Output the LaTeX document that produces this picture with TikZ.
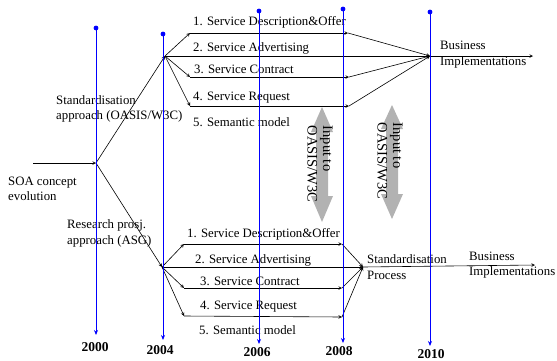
\documentclass[tikz,border=0pt]{standalone}
\usepackage{fontspec}
\setmainfont{Liberation Serif}
\usetikzlibrary{arrows.meta}

\begin{document}
\begin{tikzpicture}[x=1pt,y=-1pt]
	\tikzstyle{txt} = [anchor=west, align=left, inner sep=0pt, font=\fontsize{12.8}{15.5}\selectfont]
	\tikzstyle{year} = [inner sep=0pt, font=\fontsize{13.5}{16}\selectfont\bfseries]
	\tikzstyle{arrow} = [line width=0.6pt, ->, >=stealth]
	\tikzstyle{timeline} = [blue, line width=0.9pt, -{Stealth[length=5pt,width=4pt]}]
	\tikzstyle{inputarrow} = [fill=gray!60]
	\tikzstyle{inputtxt} = [align=left, inner sep=0pt, rotate=-90, font=\fontsize{14.5}{15.5}\selectfont]
	
	\useasboundingbox (0,0) rectangle (557,360);
	
	% branch points
	\coordinate (soa) at (33,163);
	\coordinate (p2000) at (96,163);
	\coordinate (up) at (165,56);
	\coordinate (lo) at (162,267);
	
	% standardisation branch
	\coordinate (a1) at (190,33);
	\coordinate (a3) at (190,77);
	\coordinate (a4) at (190,106);
	\coordinate (e1) at (348,33);
	\coordinate (e3) at (349,77);
	\coordinate (e4) at (349,106);
	\coordinate (merge) at (430,56);
	\coordinate (bizup) at (533,56);
	
	% research branch
	\coordinate (b1) at (184,244);
	\coordinate (b3) at (184,288);
	\coordinate (b4) at (184,316);
	\coordinate (f1) at (342,244);
	\coordinate (f3) at (342,288);
	\coordinate (f4) at (342,317);
	\coordinate (smerge) at (363,267);
	\coordinate (bizlo) at (535,265);
	
	% grey double arrows
	\fill[inputarrow] (322,107) -- (333,132) -- (328,132) -- (328,196) -- (333,196) -- (322,222)
		-- (311,196) -- (316,196) -- (316,132) -- (311,132) -- cycle;
	\fill[inputarrow] (392,105) -- (403,129) -- (398,129) -- (398,194) -- (403,194) -- (392,219)
		-- (381,194) -- (386,194) -- (386,129) -- (381,129) -- cycle;
	\node (in1) [inputtxt] at (320,164) {Input to\\OASIS/W3C};
	\node (in2) [inputtxt] at (390,161) {Input to\\OASIS/W3C};
	
	% texts
	\node (soatxt) [txt] at (8,189) {SOA concept\\evolution};
	\node (stdtxt) [txt] at (56,109) {Standardisation\\approach (OASIS/W3C)};
	\node (restxt) [txt] at (67,233.5) {Research prosj.\\approach (ASG)};
	
	\node (u1) [txt] at (193,22) {1. Service Description\&Offer};
	\node (u2) [txt] at (193,48) {2. Service Advertising};
	\node (u3) [txt] at (194,69) {3. Service Contract};
	\node (u4) [txt] at (193,98) {4. Service Request};
	\node (u5) [txt] at (193,122) {5. Semantic model};
	\node (bizu) [txt] at (440,54.5) {Business\\Implementations};
	
	\node (l1) [txt] at (187,234) {1. Service Description\&Offer};
	\node (l2) [txt] at (195,260) {2. Service Advertising};
	\node (l3) [txt] at (200,281) {3. Service Contract};
	\node (l4) [txt] at (200,307) {4. Service Request};
	\node (l5) [txt] at (199,330) {5. Semantic model};
	\node (stdproc) [txt] at (367,267) {Standardisation\\Process};
	\node (bizl) [txt] at (469,265) {Business\\Implementations};
	
	% evolution
	\draw [arrow] (soa) -- (p2000);
	\draw [arrow] (p2000) -- (up);
	\draw [arrow] (p2000) -- (lo);
	
	\draw [arrow] (up) -- (a1);
	\draw [arrow] (up) -- (a3);
	\draw [arrow] (up) -- (a4);
	\draw [arrow] (a1) -- (e1);
	\draw [arrow] (up) -- (merge);
	\draw [arrow] (a3) -- (e3);
	\draw [arrow] (a4) -- (e4);
	\draw [arrow] (e1) -- (merge);
	\draw [arrow] (e3) -- (merge);
	\draw [arrow] (e4) -- (merge);
	\draw [arrow] (merge) -- (bizup);
	
	\draw [arrow] (lo) -- (b1);
	\draw [arrow] (lo) -- (b3);
	\draw [arrow] (lo) -- (b4);
	\draw [arrow] (b1) -- (f1);
	\draw [arrow] (lo) -- (smerge);
	\draw [arrow] (b3) -- (f3);
	\draw [arrow] (b4) -- (f4);
	\draw [arrow] (f1) -- (smerge);
	\draw [arrow] (f3) -- (smerge);
	\draw [arrow] (f4) -- (smerge);
	\draw [arrow] (smerge) -- (bizlo);
	
	% time lines
	\coordinate (top2000) at (96,28);
	\coordinate (bot2000) at (96,335);
	\coordinate (top2004) at (163,34);
	\coordinate (bot2004) at (163,340);
	\coordinate (top2006) at (259,11);
	\coordinate (bot2006) at (259,344);
	\coordinate (top2008) at (343,9);
	\coordinate (bot2008) at (343,343);
	\coordinate (top2010) at (430,12);
	\coordinate (bot2010) at (430,346);
	
	\draw [timeline] (top2000) -- (bot2000);
	\draw [timeline] (top2004) -- (bot2004);
	\draw [timeline] (top2006) -- (bot2006);
	\draw [timeline] (top2008) -- (bot2008);
	\draw [timeline] (top2010) -- (bot2010);
	\fill [blue] (top2000) circle (2.4) (top2004) circle (2.4) (top2006) circle (2.4)
		(top2008) circle (2.4) (top2010) circle (2.4);
	
	\node (y2000) [year] at (95,347) {2000};
	\node (y2004) [year] at (160,350) {2004};
	\node (y2006) [year] at (257,352) {2006};
	\node (y2008) [year] at (339,351) {2008};
	\node (y2010) [year] at (431,354) {2010};
\end{tikzpicture}
\end{document}
